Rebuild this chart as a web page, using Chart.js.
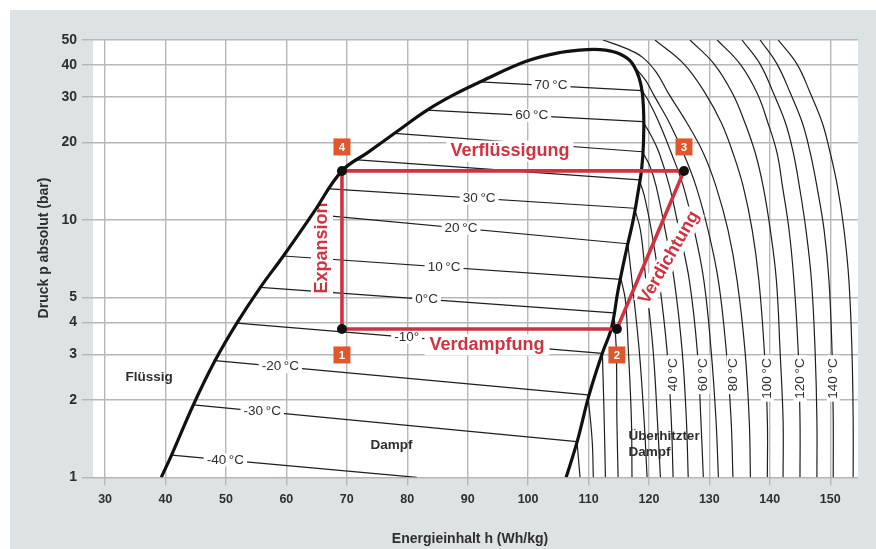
<!DOCTYPE html>
<html>
<head>
<meta charset="utf-8">
<script src="https://cdn.jsdelivr.net/npm/chart.js@4.4.1/dist/chart.umd.min.js"></script>
<style>
  html, body { margin: 0; padding: 0; background: #fff; }
  canvas { display: block; }
</style>
</head>
<body>
<canvas id="chart" width="876" height="549"></canvas>
<script>
// ---- Axis ticks ----
const hTicks = [30, 40, 50, 60, 70, 80, 90, 100, 110, 120, 130, 140, 150];
const pTicks = [1, 2, 3, 4, 5, 10, 20, 30, 40, 50];

// ---- Saturation dome: liquid line up to the critical point, vapour line back down ----
const domeH = [39.3, 41.0, 44.6, 48.2, 51.8, 55.7, 59.5, 64.4, 69.2, 73.5, 78.3, 83.3, 87.9, 92.1, 99.8, 105.3, 109.8,
               112.8, 115.2, 117.2, 118.6, 119.1, 119.1, 118.8, 118.2, 117.4, 116.2, 114.9, 113.8, 112.3, 110.1, 108.1, 106.3];
const domeP = [1.0, 1.22, 1.91, 2.84, 3.97, 5.47, 7.24, 10.6, 15.5, 18.3, 22.05, 26.7, 30.8, 34.4, 41.4, 44.7, 45.9,
               45.7, 44.1, 40.7, 34.1, 27.0, 20.0, 15.8, 12.8, 10.0, 7.5, 5.34, 3.80, 3.04, 2.09, 1.37, 1.0];

// ---- Isotherms inside the two-phase region ----
const wetTemps  = [70, 60, 50, 40, 30, 20, 10, 0, -10, -20, -30, -40];
const wetLeftH  = [92.1, 83.3, 77.9, 71.8, 67.2, 64.4, 59.5, 55.7, 51.8, 48.2, 44.6, 41.0];
const wetLeftP  = [34.4, 26.7, 21.7, 17.1, 13.2, 10.5, 7.24, 5.47, 3.97, 2.84, 1.91, 1.22];
const wetRightH = [118.9, 119.0, 118.9, 118.4, 117.6, 116.5, 115.4, 114.2, 112.3, 109.9, 108.1, 81.6];
const wetRightP = [31.8, 24.1, 18.4, 14.3, 11.1, 8.08, 5.87, 4.35, 3.03, 2.09, 1.375, 1.0];
const wetLabelH = [103.8, 100.6, null, null, 91.9, 88.9, 86.1, 83.2, 79.9, 59.0, 56.0, 49.9];
const wetLabelText = ['70\u2009°C', '60\u2009°C', '', '', '30\u2009°C', '20\u2009°C', '10\u2009°C', '0°C', '-10°',
                      '-20\u2009°C', '-30\u2009°C', '-40\u2009°C'];

// ---- Isotherms in the superheated vapour region ----
const superTemps = [150, 140, 130, 120, 110, 100, 90, 80, 70, 60, 50, 40, 30, 20, 10, 0, -10, -20, -30];
const superH = [
  [141.4, 144.5, 146.7, 148.7, 150.0, 151.2, 152.3, 153.1, 153.6, 153.8, 153.8],
  [138.4, 141.2, 143.4, 145.4, 146.7, 147.8, 149.0, 149.8, 150.3, 150.5, 150.5],
  [135.4, 138.4, 140.6, 142.6, 143.9, 144.9, 146.0, 146.9, 147.5, 147.8, 147.8],
  [131.3, 135.1, 137.9, 139.7, 141.2, 142.1, 143.2, 144.0, 144.7, 145.0, 145.0],
  [126.8, 130.8, 133.8, 135.9, 137.6, 138.9, 140.1, 141.1, 141.7, 142.2, 142.2],
  [121.0, 125.8, 129.3, 132.0, 133.9, 135.6, 137.1, 138.2, 139.1, 139.6, 139.6],
  [112.4, 116.1, 118.9, 121.2, 123.2, 126.3, 129.0, 131.1, 133.1, 134.6, 135.9, 136.6, 136.8],
  [117.2, 119.4, 121.0, 123.4, 125.7, 127.8, 129.8, 131.5, 132.8, 133.6, 133.9],
  [118.9, 120.2, 121.7, 123.7, 125.7, 127.5, 129.1, 130.3, 131.1, 131.5],
  [119.0, 120.4, 121.7, 123.4, 125.0, 126.7, 128.0, 128.6, 129.0],
  [118.9, 120.2, 121.2, 122.7, 124.2, 125.5, 126.2, 126.5],
  [118.4, 119.2, 120.4, 121.7, 123.0, 123.7, 124.0],
  [117.6, 118.6, 119.5, 120.7, 121.4, 121.9],
  [116.5, 117.2, 118.4, 119.2, 119.7],
  [115.4, 116.1, 116.6, 117.1, 117.2],
  [114.2, 114.6, 114.7, 114.9],
  [112.3, 112.6, 112.8],
  [109.9, 110.6, 110.8],
  [108.1, 108.6]
];
const superP = [
  [50, 40.3, 31.1, 23.8, 18.2, 13.5, 9.1, 5.8, 3.1, 1.67, 1],
  [50, 40.3, 31.1, 23.8, 18.2, 13.5, 9.1, 5.8, 3.1, 1.67, 1],
  [50, 40.3, 31.1, 23.8, 18.2, 13.5, 9.1, 5.8, 3.1, 1.67, 1],
  [50, 40.3, 31.1, 23.8, 18.2, 13.5, 9.1, 5.8, 3.1, 1.67, 1],
  [50, 40.3, 31.1, 23.8, 18.2, 13.5, 9.1, 5.8, 3.1, 1.67, 1],
  [50, 40.3, 31.1, 23.8, 18.2, 13.5, 9.1, 5.8, 3.1, 1.67, 1],
  [50, 46.5, 42.9, 37.5, 31.1, 23.8, 18.2, 13.5, 9.1, 5.8, 3.1, 1.67, 1],
  [40.3, 35.0, 30.0, 23.8, 18.2, 13.5, 9.1, 5.8, 3.1, 1.67, 1],
  [31.8, 28.2, 23.8, 18.2, 13.5, 9.1, 5.8, 3.1, 1.67, 1],
  [24.1, 21.2, 18.2, 13.5, 9.1, 5.8, 3.1, 1.67, 1],
  [18.4, 16.1, 13.5, 9.1, 5.8, 3.1, 1.67, 1],
  [14.3, 12.5, 9.1, 5.8, 3.1, 1.67, 1],
  [11.1, 9.1, 5.8, 3.1, 1.67, 1],
  [8.08, 5.8, 3.1, 1.67, 1],
  [5.87, 4.88, 3.1, 1.67, 1],
  [4.35, 3.1, 1.67, 1],
  [3.03, 1.67, 1],
  [2.09, 1.40, 1],
  [1.375, 1]
];
const superLabelTemps = [40, 60, 80, 100, 120, 140];

// ---- Refrigeration cycle: 1 evaporator outlet, 2 compressor inlet, 3 compressor outlet, 4 condenser outlet ----
const cycleNames = ['1', '2', '3', '4'];
const cycleH = [69.2, 114.7, 125.8, 69.2];
const cycleP = [3.77, 3.77, 15.5, 15.5];

// ---- Styling ----
const FONT = "'Liberation Sans', Arial, Helvetica, sans-serif";
const RED = '#d2323f';
const INK = '#2e2e2e';
const GRID = '#b7b7b7';

const pts = (hs, ps) => hs.map((h, i) => ({ x: h, y: ps[i] }));

const datasets = [];
datasets.push({
  label: 'cycle',
  data: pts(cycleH.concat([cycleH[0]]), cycleP.concat([cycleP[0]])),
  showLine: true, borderColor: RED, borderWidth: 3.6, tension: 0,
  borderJoinStyle: 'miter', borderCapStyle: 'butt',
  pointRadius: [5, 5, 5, 5, 0], pointBackgroundColor: '#111', pointBorderWidth: 0,
  order: 0
});
datasets.push({
  label: 'dome', data: pts(domeH, domeP),
  showLine: true, borderColor: '#111', borderWidth: 3.2, tension: 0.4, pointRadius: 0, order: 1
});
wetTemps.forEach((t, i) => datasets.push({
  label: 'wet ' + t,
  data: [{ x: wetLeftH[i], y: wetLeftP[i] }, { x: wetRightH[i], y: wetRightP[i] }],
  showLine: true, borderColor: '#1e1e1e', borderWidth: 1.2, tension: 0, pointRadius: 0, order: 2
}));
superTemps.forEach((t, i) => datasets.push({
  label: 'vapour ' + t, data: pts(superH[i], superP[i]),
  showLine: true, borderColor: '#1e1e1e', borderWidth: 1.2, tension: 0.4, pointRadius: 0, order: 2
}));

// ---- Drawing helpers ----
function boxedText(ctx, text, x, y, o) {
  ctx.save();
  ctx.translate(x, y);
  if (o.angle) ctx.rotate(o.angle);
  ctx.font = o.font;
  ctx.textAlign = o.align || 'center';
  ctx.textBaseline = 'middle';
  const w = ctx.measureText(text).width;
  if (o.box) {
    const padX = o.padX !== undefined ? o.padX : 2;
    const bh = o.boxH || 14;
    const x0 = o.align === 'right' ? -w : (o.align === 'left' ? 0 : -w / 2);
    ctx.fillStyle = '#fff';
    ctx.fillRect(x0 - padX, -bh / 2 + (o.boxDy || 0), w + 2 * padX, bh);
  }
  ctx.fillStyle = o.color;
  ctx.fillText(text, 0, 0);
  ctx.restore();
}

const backdrop = {
  id: 'backdrop',
  beforeDraw(chart) {
    const { ctx, chartArea: a } = chart;
    ctx.save();
    ctx.fillStyle = '#ffffff';
    ctx.fillRect(0, 0, chart.width, chart.height);
    ctx.fillStyle = '#dde2e5';
    ctx.fillRect(10, 10, chart.width - 10, chart.height - 10);
    ctx.fillStyle = '#ffffff';
    ctx.fillRect(a.left, a.top, a.right - a.left, a.bottom - a.top);
    ctx.restore();
  }
};

const annotations = {
  id: 'annotations',
  // labels sit above the thin isotherms but below the dome and the cycle
  beforeDatasetDraw(chart, args) {
    if (args.index !== 1) return;
    const { ctx } = chart;
    const xs = chart.scales.x, ys = chart.scales.y;
    const X = v => xs.getPixelForValue(v), Y = v => ys.getPixelForValue(v);
    ctx.save();
    ctx.beginPath();
    ctx.rect(chart.chartArea.left, chart.chartArea.top,
             chart.chartArea.right - chart.chartArea.left, chart.chartArea.bottom - chart.chartArea.top);
    ctx.clip();

    // temperature labels on the two-phase isotherms
    wetTemps.forEach((t, i) => {
      if (wetLabelH[i] === null) return;
      const x1 = X(wetLeftH[i]), y1 = Y(wetLeftP[i]), x2 = X(wetRightH[i]), y2 = Y(wetRightP[i]);
      const x = X(wetLabelH[i]);
      const y = y1 + (x - x1) / (x2 - x1) * (y2 - y1);
      boxedText(ctx, wetLabelText[i], x, y, { font: '13.5px ' + FONT, color: INK, box: true, padX: 3, boxH: 13 });
    });

    // temperature labels on the superheated isotherms
    superLabelTemps.forEach(t => {
      const i = superTemps.indexOf(t);
      const h = superH[i][superH[i].length - 1];
      boxedText(ctx, t + '\u2009°C', X(h), Y(2.9), {
        font: '13.5px ' + FONT, color: INK, angle: -Math.PI / 2, align: 'right', box: true, padX: 3, boxH: 13
      });
    });

    // process names
    const redFont = 'bold 18px ' + FONT;
    boxedText(ctx, 'Verflüssigung', X(97.0), Y(18.5), { font: redFont, color: RED, box: true, padX: 4, boxH: 21 });
    boxedText(ctx, 'Verdampfung', X(93.2), Y(3.27), { font: redFont, color: RED, box: true, padX: 5, boxH: 21 });
    boxedText(ctx, 'Expansion', X(65.9), Y(7.78), { font: redFont, color: RED, angle: -Math.PI / 2, box: true, padX: 3, boxH: 22 });
    boxedText(ctx, 'Verdichtung', X(123.35), Y(7.14), { font: redFont, color: RED, angle: -Math.PI / 3, box: true, padX: 2, boxH: 20 });

    // state regions
    const regFont = 'bold 13.5px ' + FONT;
    boxedText(ctx, 'Flüssig', X(37.3), Y(2.45), { font: regFont, color: INK });
    boxedText(ctx, 'Dampf', X(77.4), Y(1.335), { font: regFont, color: INK });
    boxedText(ctx, 'Überhitzter', X(116.6), Y(1.447), { font: regFont, color: INK, align: 'left' });
    boxedText(ctx, 'Dampf', X(116.6), Y(1.248), { font: regFont, color: INK, align: 'left' });
    ctx.restore();
  },
  afterDatasetsDraw(chart) {
    const { ctx } = chart;
    const xs = chart.scales.x, ys = chart.scales.y;
    // numbered badges at the cycle states
    cycleNames.forEach((n, i) => {
      const x = xs.getPixelForValue(cycleH[i]);
      const y = ys.getPixelForValue(cycleP[i]) + (i < 2 ? 26 : -24);
      ctx.save();
      ctx.fillStyle = '#e1572b';
      ctx.fillRect(x - 8.5, y - 8.5, 17, 17);
      ctx.fillStyle = '#fff';
      ctx.font = 'bold 11.5px ' + FONT;
      ctx.textAlign = 'center';
      ctx.textBaseline = 'middle';
      ctx.fillText(n, x, y + 0.5);
      ctx.restore();
    });
  },
  afterDraw(chart) {
    const { ctx } = chart;
    boxedText(ctx, 'Druck p absolut (bar)', 44, 248, { font: 'bold 14px ' + FONT, color: INK, angle: -Math.PI / 2 });
    boxedText(ctx, 'Energieinhalt h (Wh/kg)', 470, 539, { font: 'bold 14px ' + FONT, color: INK });
  }
};

new Chart(document.getElementById('chart'), {
  type: 'scatter',
  data: { datasets },
  options: {
    responsive: false,
    animation: false,
    events: [],
    layout: { padding: { left: 0, right: 18, top: 40, bottom: 0 } },
    plugins: { legend: { display: false }, tooltip: { enabled: false } },
    scales: {
      x: {
        type: 'linear', min: 28, max: 154.6,
        afterBuildTicks: s => { s.ticks = hTicks.map(v => ({ value: v })); },
        afterFit: s => { s.height = 549 - 477.3; },
        border: { display: false },
        grid: { color: GRID, lineWidth: 1.4, tickLength: 8, tickColor: GRID },
        ticks: { autoSkip: false, maxRotation: 0, padding: 7, color: INK,
                 font: { family: FONT, size: 12.5, weight: 'bold' } }
      },
      y: {
        type: 'logarithmic', min: 1, max: 50,
        afterBuildTicks: s => { s.ticks = pTicks.map(v => ({ value: v })); },
        afterFit: s => { s.width = 93; },
        border: { display: false },
        grid: { color: GRID, lineWidth: 1.4, tickLength: 11, tickColor: GRID },
        ticks: { autoSkip: false, padding: 5, color: INK,
                 callback: v => (pTicks.includes(v) ? String(v) : ''),
                 font: { family: FONT, size: 14, weight: 'bold' } }
      }
    }
  },
  plugins: [backdrop, annotations]
});
</script>
</body>
</html>
